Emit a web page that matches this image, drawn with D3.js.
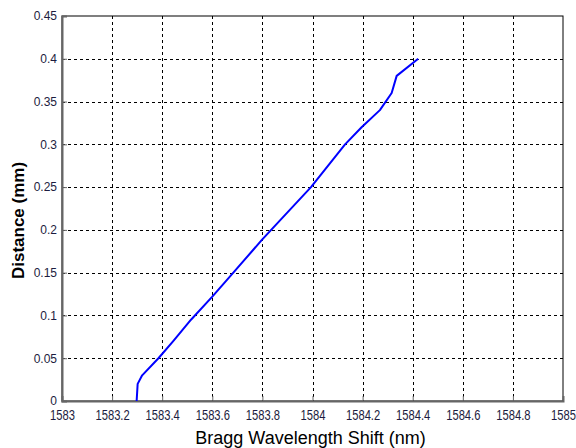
<!DOCTYPE html>
<html>
<head>
<meta charset="utf-8">
<script src="https://cdn.jsdelivr.net/npm/d3@7"></script>
<style>
  body { margin: 0; background: #fff; }
  text { font-family: Arial, "Liberation Sans", sans-serif; }
</style>
</head>
<body>
<div id="chart"></div>
<script>
// wavelength shift (nm) vs distance (mm)
const shift = [1583.298, 1583.302, 1583.32, 1583.385, 1583.444, 1583.515, 1583.6,
  1583.684, 1583.797, 1583.835, 1583.994, 1584.13, 1584.196, 1584.269, 1584.316,
  1584.336, 1584.422];
const distance = [0, 0.02, 0.03, 0.05, 0.07, 0.095, 0.122, 0.15, 0.188, 0.2, 0.25,
  0.3, 0.32, 0.34, 0.36, 0.38, 0.4];
const xTicks = [1583, 1583.2, 1583.4, 1583.6, 1583.8, 1584, 1584.2, 1584.4, 1584.6, 1584.8, 1585];
const yTicks = [0, 0.05, 0.1, 0.15, 0.2, 0.25, 0.3, 0.35, 0.4, 0.45];

const width = 576;
const height = 448;
const plotL = 62;
const plotR = 563;
const plotT = 16;
const plotB = 401;

const svg = d3.select('#chart').append('svg')
  .attr('width', width)
  .attr('height', height);

const x = d3.scaleLinear().domain([1583, 1585]).range([plotL, plotR]);
const y = d3.scaleLinear().domain([0, 0.45]).range([plotB, plotT]);

// dashed grid
const grid = svg.append('g')
  .attr('stroke', '#000')
  .attr('stroke-width', 1)
  .attr('stroke-dasharray', '3,3');

grid.selectAll('.vx')
  .data(xTicks.slice(1, -1))
  .enter().append('line')
  .attr('x1', (d) => Math.round(x(d)) + 0.5)
  .attr('x2', (d) => Math.round(x(d)) + 0.5)
  .attr('y1', plotT)
  .attr('y2', plotB);

grid.selectAll('.hy')
  .data(yTicks.slice(1, -1))
  .enter().append('line')
  .attr('y1', (d) => Math.round(y(d)) + 0.5)
  .attr('y2', (d) => Math.round(y(d)) + 0.5)
  .attr('x1', plotL)
  .attr('x2', plotR);

// box
svg.append('rect')
  .attr('x', plotL)
  .attr('y', plotT)
  .attr('width', plotR - plotL)
  .attr('height', plotB - plotT)
  .attr('fill', 'none')
  .attr('stroke', '#000')
  .attr('stroke-width', 1);

const fmt = (d) => String(Number(d.toFixed(2)));

const xAxis = svg.append('g')
  .attr('transform', `translate(0,${plotB})`)
  .call(d3.axisBottom(x).tickValues(xTicks).tickFormat(fmt).tickSize(-5).tickPadding(9));

const yAxis = svg.append('g')
  .attr('transform', `translate(${plotL},0)`)
  .call(d3.axisLeft(y).tickValues(yTicks).tickFormat(fmt).tickSize(-5).tickPadding(5));

[xAxis, yAxis].forEach((g) => {
  g.select('.domain').attr('stroke', '#666').attr('stroke-width', 2);
  g.selectAll('.tick line').attr('stroke', '#666');
  g.selectAll('.tick text')
    .attr('fill', '#1c1c40')
    .style('font-size', '12px')
    .style('font-family', 'Arial, "Liberation Sans", sans-serif');
});
// x tick labels look tall and narrow in the original
xAxis.selectAll('.tick text')
  .style('font-size', '14px')
  .attr('transform', 'scale(0.8,1)');

// the curve
const line = d3.line()
  .x((d, i) => x(shift[i]))
  .y((d) => y(d));

svg.append('path')
  .datum(distance)
  .attr('d', line)
  .attr('fill', 'none')
  .attr('stroke', '#0000ff')
  .attr('stroke-width', 2)
  .attr('stroke-linejoin', 'round');

// axis labels
svg.append('text')
  .attr('x', (plotL + plotR) / 2 - 2)
  .attr('y', 444)
  .attr('text-anchor', 'middle')
  .style('font-size', '18px')
  .attr('fill', '#000')
  .text('Bragg Wavelength Shift (nm)');

svg.append('text')
  .attr('transform', `translate(24,${(plotT + plotB) / 2 + 12}) rotate(-90)`)
  .attr('text-anchor', 'middle')
  .style('font-size', '17px')
  .style('font-weight', 'bold')
  .attr('fill', '#000')
  .text('Distance (mm)');
</script>
</body>
</html>
